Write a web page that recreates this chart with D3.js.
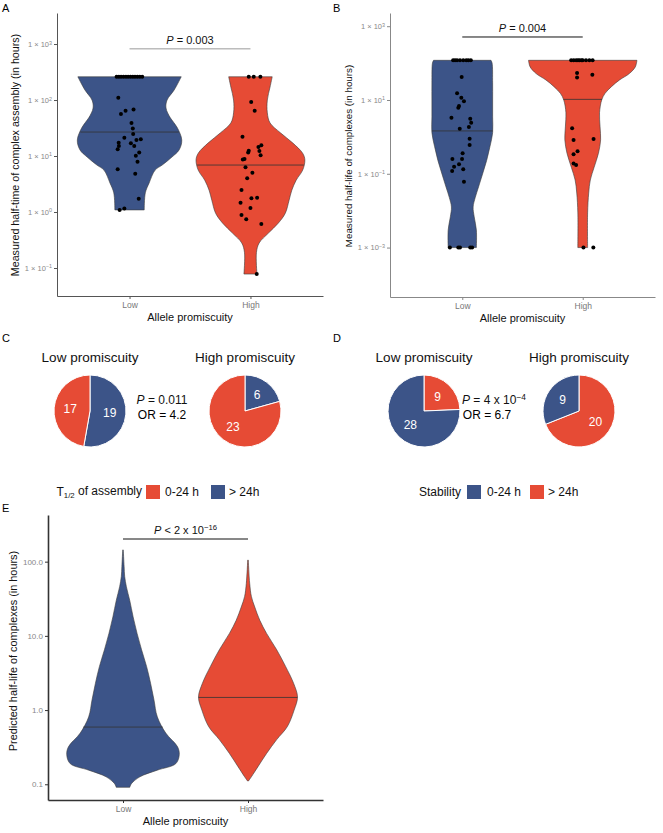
<!DOCTYPE html>
<html><head><meta charset="utf-8">
<script src="https://cdn.jsdelivr.net/npm/d3@7"></script>
<style>body{margin:0;background:#fff}text{font-family:"Liberation Sans",Arial,Helvetica,sans-serif}</style>
</head><body><script>
// ---------------- DATA ----------------
const categories = ["Low", "High"];
const groupColors = ["#3C5488", "#E64B35"];

// Panel A: measured half-time of complex assembly (hours)
const aTicks = [0.1, 1, 10, 100, 1000];
const aViolinLow = [[260,0.95],[151,0.82],[100,0.69],[72,0.67],[48,0.75],[33,0.87],[19.3,0.96],[12.8,0.91],[9.6,0.78],[6.9,0.60],[5.6,0.47],[3.3,0.36],[2.2,0.29],[1.09,0.27]];
const aViolinHigh = [[260,0.40],[170,0.36],[100,0.31],[59,0.31],[39,0.36],[26,0.55],[17,0.78],[11.2,0.96],[8.5,1.0],[5.6,0.96],[3.7,0.84],[2.45,0.76],[1.62,0.71],[0.95,0.64],[0.63,0.51],[0.42,0.33],[0.28,0.16],[0.19,0.11],[0.078,0.12]];
const aMedians = [26.8, 6.9];
const aLowValues = [260,260,260,260,260,260,260,260,260,260,260,260,110,56,64,68,39,31,24.7,21.2,19.9,19.3,17.3,15.1,16.9,15.1,13.2,11.6,10.1,7.9,5.8,4.8,1.73,1.16,1.09];
const aLowJitter = [-0.107,-0.088,-0.07,-0.05,-0.03,-0.012,0.008,0.027,0.045,0.065,0.085,0.105,-0.093,-0.071,-0.033,0.033,0.016,0.027,0.030,-0.043,0.093,0.057,-0.090,-0.088,0.011,0.039,-0.098,0.080,0.052,0.066,-0.098,0.047,0.076,-0.043,-0.082];
const aHighValues = [260,260,260,92,64,22.1,15.5,14.5,12.4,11.5,12.3,10.3,8.8,8.7,6.3,5.0,4.0,2.47,1.76,1.80,1.47,1.18,0.88,0.74,0.61,0.078];
const aHighJitter = [-0.014,0.027,0.082,0.006,0.035,-0.066,0.090,0.066,-0.014,-0.019,0.074,0.084,-0.049,-0.063,-0.041,0.016,-0.027,-0.074,0.008,0.055,-0.082,0,-0.074,-0.035,0.090,0.052];

// Panel B: measured half-life of complexes (hours)
const bTicks = [0.001, 0.1, 10, 1000];
const bViolinLow = [[119,0.53],[100,0.55],[29,0.56],[10,0.56],[3.5,0.56],[1.3,0.56],[0.54,0.51],[0.23,0.45],[0.105,0.38],[0.044,0.30],[0.023,0.24],[0.0126,0.20],[0.0068,0.22],[0.003,0.26],[0.001,0.26]];
const bViolinHigh = [[119,1.0],[79,0.97],[52,0.86],[35,0.68],[23,0.53],[15,0.41],[10,0.35],[4.5,0.31],[1.86,0.32],[0.83,0.33],[0.36,0.29],[0.15,0.21],[0.068,0.14],[0.030,0.11],[0.0087,0.09],[0.001,0.09]];
const bMedians = [1.45, 10.4];
const bLowValues = [119,119,119,119,119,119,119,119,42,15.2,11.5,9.2,6.9,6.2,3.3,3.1,2.43,1.85,1.67,0.89,0.60,0.36,0.25,0.25,0.18,0.156,0.119,0.132,0.061,0.001,0.001,0.001,0.001,0.001];
const bLowJitter = [-0.076,-0.06,-0.043,-0.019,0.008,0.033,0.05,0.071,-0.005,-0.043,-0.008,0.014,-0.027,-0.033,-0.090,0.066,0.074,0.055,-0.021,0.061,0.061,0.003,-0.082,-0.002,-0.027,-0.068,-0.084,0.008,0.014,-0.103,-0.033,-0.019,0.066,0.082];
const bHighValues = [119,119,119,119,119,119,119,119,119,119,54,41,48,1.71,0.82,0.88,0.41,0.34,0.19,0.173,0.001,0.001];
const bHighJitter = [-0.096,-0.075,-0.055,-0.04,-0.027,-0.01,0,0.027,0.055,0.082,-0.047,-0.047,0.080,-0.088,-0.076,0.090,-0.043,-0.076,-0.076,-0.055,0.006,0.088];

// Panel E: predicted half-life of complexes (hours)
const eTicks = [0.1, 1, 10, 100];
const eViolinLow = [[144,0.005],[86,0.02],[63,0.03],[46,0.06],[30,0.12],[18,0.18],[10.8,0.25],[6.5,0.33],[3.85,0.42],[2.3,0.49],[1.38,0.55],[0.81,0.61],[0.49,0.76],[0.32,0.97],[0.25,1.0],[0.19,0.94],[0.155,0.61],[0.126,0.30],[0.102,0.15],[0.091,0.12]];
const eViolinHigh = [[105,0.005],[51,0.03],[34,0.06],[24.5,0.12],[16.2,0.21],[10.8,0.33],[6.5,0.51],[3.85,0.67],[2.3,0.81],[1.5,0.88],[1.0,0.82],[0.6,0.70],[0.4,0.51],[0.26,0.33],[0.174,0.18],[0.126,0.06],[0.111,0.01]];
const eMedians = [0.59, 1.48];

// Panels C & D: pie counts (slice order: "> 24h", "0-24 h")
const pieSlices = ["> 24h", "0-24 h"];
const cLowCounts = [19, 17];
const cHighCounts = [6, 23];
const dLowCounts = [9, 28];
const dHighCounts = [20, 9];
const cColors = ["#3C5488", "#E64B35"];
const dColors = ["#E64B35", "#3C5488"];

// ---------------- DRAW ----------------
const svg = d3.select("body").append("svg").attr("width", 663).attr("height", 833);

function supText(sel, base, exp, expSize) {
  sel.append("tspan").text(base);
  sel.append("tspan").attr("dy", "-0.45em").attr("font-size", expSize || "0.72em").text(exp);
}

function violinPanel(o) {
  const g = svg.append("g");
  const x = d3.scalePoint().domain(categories).range(o.xRange).padding(0.6);
  const y = d3.scaleLog().domain(o.yDomain).range(o.yRange);
  const hwMax = 0.45 * x.step();

  o.violins.forEach((prof, i) => {
    const cx = x(categories[i]);
    const area = d3.area()
      .y(d => y(d[0]))
      .x0(d => cx - d[1] * hwMax)
      .x1(d => cx + d[1] * hwMax)
      .curve(d3.curveCatmullRom);
    g.append("path").datum(prof).attr("d", area)
      .attr("fill", groupColors[i]).attr("stroke", "#3a3a3a").attr("stroke-width", 0.6);
    const m = o.medians[i];
    const lm = Math.log10(m);
    let w = prof[0][1];
    for (let k = 0; k < prof.length - 1; k++) {
      const a = Math.log10(prof[k][0]), b = Math.log10(prof[k + 1][0]);
      if ((lm <= a && lm >= b)) { const t = (a - lm) / (a - b); w = prof[k][1] + t * (prof[k + 1][1] - prof[k][1]); break; }
    }
    g.append("line").attr("x1", cx - w * hwMax).attr("x2", cx + w * hwMax)
      .attr("y1", y(m)).attr("y2", y(m)).attr("stroke", "#333").attr("stroke-width", 0.8);
  });

  (o.points || []).forEach((p, i) => {
    const cx = x(categories[i]);
    g.selectAll(null).data(p.values).enter().append("circle")
      .attr("cx", (d, k) => cx + p.jitter[k] * x.step())
      .attr("cy", d => y(d)).attr("r", 2).attr("fill", "#000");
  });

  const ay = g.append("g").attr("transform", `translate(${o.xRange[0]},0)`)
    .call(d3.axisLeft(y).tickValues(o.ticks).tickSize(3).tickSizeOuter(0).tickFormat(""));
  const ax = g.append("g").attr("transform", `translate(0,${o.yRange[0]})`)
    .call(d3.axisBottom(x).tickSize(3).tickSizeOuter(0));
  [ay, ax].forEach(a => {
    a.select(".domain").attr("stroke", o.axisColor).attr("stroke-width", o.axisWidth);
    a.selectAll(".tick line").attr("stroke", o.axisColor);
  });
  ax.selectAll(".tick text").attr("fill", "#777").attr("font-size", 8.5).attr("font-family", "Liberation Sans, Arial");
  ay.selectAll(".tick").each(function (d) {
    const t = d3.select(this).append("text").attr("x", -5).attr("dy", "0.32em")
      .attr("text-anchor", "end").attr("fill", "#888").attr("font-size", o.tickFont);
    o.tickLabel(t, d);
  });

  g.append("text").attr("x", (o.xRange[0] + o.xRange[1]) / 2).attr("y", o.yRange[0] + 25)
    .attr("text-anchor", "middle").attr("font-size", 11).attr("fill", "#111").text("Allele promiscuity");
  g.append("text").attr("transform", `translate(${o.yTitleX},${o.yTitleY}) rotate(-90)`)
    .attr("text-anchor", "middle").attr("font-size", o.yTitleSize).attr("fill", "#111").text(o.yTitle);
  g.append("text").attr("x", o.letterX).attr("y", o.letterY).attr("font-size", 11).text(o.letter);

  const sy = y(o.sigValue);
  g.append("line").attr("x1", x("Low")).attr("x2", x("High")).attr("y1", sy).attr("y2", sy)
    .attr("stroke", o.sigColor).attr("stroke-width", 1);
  const st = g.append("text").attr("x", (x("Low") + x("High")) / 2).attr("y", sy - 5)
    .attr("text-anchor", "middle").attr("font-size", 11).attr("fill", "#111");
  o.sigText(st);
}

const sciTick = (t, d) => {
  const e = Math.round(Math.log10(d));
  supText(t, "1 × 10", e < 0 ? "−" + (-e) : String(e));
};

violinPanel({
  letter: "A", letterX: 2, letterY: 12,
  xRange: [57, 323], yRange: [296, 13], yDomain: [Math.pow(10, -1.5), Math.pow(10, 3.554)],
  ticks: aTicks, tickLabel: sciTick, tickFont: 7.5,
  violins: [aViolinLow, aViolinHigh], medians: aMedians,
  points: [{ values: aLowValues, jitter: aLowJitter }, { values: aHighValues, jitter: aHighJitter }],
  axisColor: "#555", axisWidth: 1,
  yTitle: "Measured half-time of complex assembly (in hours)", yTitleX: 19, yTitleY: 155, yTitleSize: 10.7,
  sigValue: 820, sigColor: "#999",
  sigText: t => { t.append("tspan").attr("font-style", "italic").text("P"); t.append("tspan").text(" = 0.003"); }
});

violinPanel({
  letter: "B", letterX: 333, letterY: 12,
  xRange: [390, 655], yRange: [297, 13], yDomain: [Math.pow(10, -4.34), Math.pow(10, 3.358)],
  ticks: bTicks, tickLabel: sciTick, tickFont: 7.5,
  violins: [bViolinLow, bViolinHigh], medians: bMedians,
  points: [{ values: bLowValues, jitter: bLowJitter }, { values: bHighValues, jitter: bHighJitter }],
  axisColor: "#888", axisWidth: 1,
  yTitle: "Measured half-life of complexes (in hours)", yTitleX: 352, yTitleY: 156, yTitleSize: 9.8,
  sigValue: 510, sigColor: "#111",
  sigText: t => { t.append("tspan").attr("font-style", "italic").text("P"); t.append("tspan").text(" = 0.004"); }
});

violinPanel({
  letter: "E", letterX: 2, letterY: 512,
  xRange: [48, 323], yRange: [800, 515], yDomain: [Math.pow(10, -1.212), Math.pow(10, 2.629)],
  ticks: eTicks, tickLabel: (t, d) => t.text(d3.format(".1f")(d)), tickFont: 8,
  violins: [eViolinLow, eViolinHigh], medians: eMedians,
  points: [],
  axisColor: "#333", axisWidth: 1.6,
  yTitle: "Predicted half-life of complexes (in hours)", yTitleX: 17, yTitleY: 651, yTitleSize: 10.9,
  sigValue: 202, sigColor: "#111",
  sigText: t => {
    t.append("tspan").attr("font-style", "italic").text("P");
    t.append("tspan").text(" < 2 x 10");
    t.append("tspan").attr("dy", "-0.5em").attr("font-size", "0.7em").text("−16");
  }
});

// ---------- pies ----------
const pie = d3.pie().sort(null);
function drawPie(cx, cy, r, counts, colors, title) {
  const g = svg.append("g").attr("transform", `translate(${cx},${cy})`);
  const arcs = pie(counts);
  const arc = d3.arc().innerRadius(0).outerRadius(r);
  g.selectAll(null).data(arcs).enter().append("path").attr("d", arc)
    .attr("fill", (d, i) => colors[i]).attr("stroke", "#fff").attr("stroke-width", 1);
  const la = d3.arc().innerRadius(r * 0.55).outerRadius(r * 0.55);
  g.selectAll(null).data(arcs).enter().append("text")
    .attr("transform", d => `translate(${la.centroid(d)})`)
    .attr("text-anchor", "middle").attr("dy", "0.35em").attr("fill", "#fff").attr("font-size", 12)
    .text(d => d.data);
  svg.append("text").attr("x", cx).attr("y", cy - r - 13).attr("text-anchor", "middle")
    .attr("font-size", 13.5).attr("fill", "#111").text(title);
}
const pieR = 36, pieY = 411;
drawPie(90, pieY, pieR, cLowCounts, cColors, "Low promiscuity");
drawPie(245, pieY, pieR, cHighCounts, cColors, "High promiscuity");
drawPie(424, pieY, pieR, dLowCounts, dColors, "Low promiscuity");
drawPie(579, pieY, pieR, dHighCounts, dColors, "High promiscuity");
svg.append("text").attr("x", 2).attr("y", 342).attr("font-size", 11).text("C");
svg.append("text").attr("x", 333).attr("y", 342).attr("font-size", 11).text("D");

function statText(cx, y, exp) {
  const t = svg.append("text").attr("x", cx).attr("y", y).attr("text-anchor", "middle").attr("font-size", 12).attr("fill", "#111");
  t.append("tspan").attr("font-style", "italic").text("P");
  if (exp) { t.append("tspan").text(" = 4 x 10"); t.append("tspan").attr("dy", "-0.5em").attr("font-size", "0.7em").text("−4"); }
  else t.append("tspan").text(" = 0.011");
}
statText(162, 404, false);
svg.append("text").attr("x", 162).attr("y", 419).attr("text-anchor", "middle").attr("font-size", 12).text("OR = 4.2");
statText(494, 404, true);
svg.append("text").attr("x", 487).attr("y", 419).attr("text-anchor", "middle").attr("font-size", 12).text("OR = 6.7");

// legends (title right-aligned before the first key)
function legend(titleEnd, y0, titleFn, items) {
  const t = svg.append("text").attr("x", titleEnd).attr("y", y0).attr("font-size", 12)
    .attr("text-anchor", "end").attr("fill", "#111");
  titleFn(t);
  items.forEach(it => {
    svg.append("rect").attr("x", it.rx).attr("y", y0 - 11).attr("width", 14).attr("height", 14).attr("fill", it.color);
    svg.append("text").attr("x", it.tx).attr("y", y0).attr("font-size", 12).attr("fill", "#111").text(it.label);
  });
}
legend(142, 496, t => {
  t.append("tspan").text("T");
  t.append("tspan").attr("dy", "0.3em").attr("font-size", "0.65em").text("1/2");
  t.append("tspan").attr("dy", "-0.3em").text(" of assembly");
}, [{ rx: 146, tx: 165, color: cColors[1], label: pieSlices[1] }, { rx: 211, tx: 229, color: cColors[0], label: pieSlices[0] }]);
legend(461, 496, t => t.text("Stability"),
  [{ rx: 467, tx: 487, color: dColors[1], label: pieSlices[1] }, { rx: 530, tx: 548, color: dColors[0], label: pieSlices[0] }]);
</script></body></html>
